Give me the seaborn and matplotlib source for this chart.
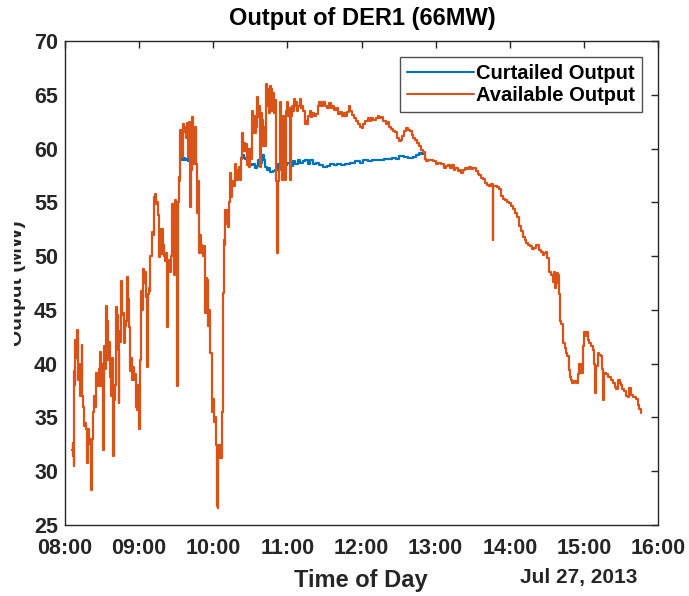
import numpy as np
import pandas as pd
import matplotlib
matplotlib.use("Agg")
import matplotlib.pyplot as plt
import matplotlib.dates as mdates
from matplotlib.lines import Line2D
from matplotlib.patches import Rectangle
import seaborn as sns

# ---------------- data (minutes after 08:00, MW) ----------------
avail_min = [
    6.0, 6.3, 6.6, 7.0, 7.3, 7.8, 8.3, 9.0, 9.6, 10.2, 10.8, 11.4, 12.0, 12.7, 13.4, 14.0, 14.6, 15.4,
    16.2, 17.0, 17.6, 18.4, 19.2, 20.0, 20.8, 21.6, 22.3, 23.0, 23.8, 24.6, 25.4, 26.2, 27.0, 27.6,
    28.3, 28.9, 29.5, 30.2, 31.0, 31.6, 32.3, 33.0, 33.8, 34.6, 35.2, 35.9, 36.6, 37.3, 38.0, 38.8,
    39.5, 40.3, 41.0, 41.9, 42.6, 43.4, 44.0, 44.8, 45.5, 46.2, 47.0, 47.8, 48.6, 49.4, 50.2, 50.9,
    51.6, 52.4, 53.2, 54.0, 55.0, 56.0, 56.8, 57.6, 58.4, 59.2, 60.0, 60.8, 61.5, 62.2, 63.0, 63.8,
    64.6, 65.4, 66.2, 66.8, 67.6, 68.4, 69.2, 70.3, 71.0, 71.8, 72.6, 73.4, 74.2, 75.0, 75.7, 76.5,
    77.3, 78.2, 78.9, 79.6, 80.4, 81.2, 82.0, 82.6, 83.4, 84.2, 85.1, 85.8, 86.5, 87.3, 88.0, 88.6,
    89.3, 90.0, 90.5, 91.2, 91.9, 92.6, 93.2, 94.0, 94.9, 95.7, 96.5, 97.3, 98.1, 98.9, 99.7, 100.5,
    101.4, 102.2, 103.0, 103.8, 104.6, 105.4, 106.2, 107.0, 107.8, 108.6, 109.4, 110.2, 111.0, 111.9,
    112.7, 113.5, 114.3, 115.0, 115.8, 116.6, 117.6, 118.4, 119.2, 120.0, 120.8, 121.6, 122.4, 123.0,
    123.6, 124.2, 124.9, 125.7, 126.4, 127.0, 127.5, 128.1, 128.6, 129.4, 129.9, 130.8, 131.6, 132.2,
    133.0, 133.8, 134.6, 135.4, 136.2, 137.0, 137.8, 138.8, 139.8, 140.8, 141.9, 142.7, 143.5, 144.3,
    145.2, 146.0, 146.8, 147.6, 148.4, 149.2, 150.0, 150.8, 151.6, 152.4, 153.2, 154.0, 154.8, 155.7,
    156.5, 157.3, 158.1, 158.9, 159.7, 160.5, 161.3, 162.2, 163.0, 163.8, 164.6, 165.4, 166.2, 167.0,
    167.8, 168.6, 169.4, 170.2, 171.0, 171.5, 172.2, 173.0, 173.8, 174.6, 175.4, 176.2, 177.0, 177.8,
    178.6, 179.4, 180.2, 181.0, 181.8, 182.6, 183.4, 184.2, 185.0, 186.0, 187.0, 188.0, 189.0, 190.0,
    191.0, 192.0, 193.0, 194.0, 195.0, 196.0, 197.0, 198.0, 199.0, 200.0, 201.5, 203.0, 204.5, 206.0,
    207.5, 209.0, 210.5, 212.0, 213.5, 215.0, 216.5, 218.0, 219.5, 221.0, 222.5, 224.0, 225.5, 227.0,
    228.5, 229.5, 231.0, 232.5, 234.0, 235.5, 237.0, 238.5, 240.0, 241.5, 243.0, 244.9, 246.5, 248.0,
    249.5, 251.4, 253.0, 254.5, 256.0, 257.8, 259.5, 261.0, 262.5, 264.0, 265.5, 267.0, 268.5, 270.0,
    271.6, 273.0, 274.5, 276.0, 277.5, 279.0, 280.5, 282.0, 283.5, 285.0, 286.5, 288.0, 289.5, 291.0,
    292.5, 294.0, 296.0, 298.0, 300.0, 302.0, 304.0, 306.5, 308.0, 309.7, 311.5, 313.0, 314.6, 316.0,
    317.8, 319.0, 320.3, 322.0, 323.5, 325.0, 327.0, 329.0, 330.5, 332.4, 334.0, 335.5, 337.0, 338.5,
    340.0, 341.5, 343.0, 344.5, 346.0, 346.3, 346.6, 348.0, 350.0, 351.5, 353.0, 354.3, 356.0, 357.5,
    359.2, 361.0, 362.4, 364.0, 365.5, 367.3, 369.0, 370.5, 372.0, 373.5, 375.0, 376.5, 378.0, 379.5,
    381.5, 383.5, 385.0, 386.8, 388.0, 389.2, 390.0, 391.6, 393.0, 394.9, 395.7, 396.5, 397.3, 398.5,
    399.2, 399.7, 400.5, 401.5, 403.0, 404.5, 405.4, 406.5, 407.8, 408.6, 409.5, 410.5, 412.0, 413.5,
    415.1, 416.0, 417.6, 419.2, 420.0, 421.0, 421.6, 423.2, 424.5, 425.7, 427.3, 428.0, 429.0, 429.3,
    429.7, 431.4, 432.5, 433.8, 435.0, 435.4, 436.2, 437.8, 439.5, 441.9, 443.5, 445.0, 446.0, 447.6,
    449.0, 450.0, 451.2, 452.4, 454.0, 455.7, 456.5, 458.1, 460.0, 462.2, 463.5, 464.6, 466.2,
]
avail_mw = [
    32.0, 32.6, 31.4, 30.5, 39.3, 38.0, 42.2, 40.5, 43.1, 40.6, 38.5, 40.0, 37.0, 39.0, 41.7, 37.0, 36.0, 34.2,
    34.5, 33.9, 30.8, 33.9, 32.5, 33.0, 28.3, 33.0, 33.6, 35.5, 37.0, 36.0, 39.1, 38.5, 37.9, 39.5,
    41.1, 38.0, 37.9, 40.0, 32.0, 41.6, 39.5, 45.4, 44.0, 42.5, 40.3, 42.0, 38.8, 37.0, 40.5, 31.4,
    36.6, 38.0, 45.3, 44.5, 41.3, 36.3, 43.0, 42.0, 47.7, 44.5, 44.7, 41.9, 43.5, 44.0, 48.1, 46.0,
    43.4, 39.3, 40.5, 38.5, 39.7, 38.5, 39.0, 36.0, 35.7, 38.0, 33.9, 40.3, 46.8, 45.0, 48.8, 47.5,
    48.5, 46.2, 39.7, 46.5, 47.0, 46.8, 50.0, 52.2, 52.0, 55.5, 55.8, 54.8, 55.0, 53.8, 49.9, 52.5,
    51.5, 50.2, 52.5, 51.0, 50.0, 49.5, 50.3, 43.4, 49.6, 49.0, 48.5, 50.0, 54.8, 54.8, 50.0, 48.2,
    55.2, 54.0, 37.9, 55.0, 57.4, 57.0, 61.7, 60.5, 59.2, 62.3, 61.5, 62.0, 61.0, 62.4, 59.2, 62.5,
    54.6, 58.0, 62.9, 60.0, 58.6, 62.0, 58.6, 54.0, 57.0, 50.3, 52.0, 51.0, 50.3, 50.0,
    50.9, 44.7, 48.0, 47.8, 43.5, 45.0, 41.0, 41.0, 35.5, 36.7, 34.6, 35.0, 32.4, 26.8,
    26.6, 32.4, 31.2, 32.4, 31.2, 35.5, 46.0, 46.6, 51.5, 51.0, 54.3, 53.0, 54.0, 52.7,
    55.0, 57.7, 55.5, 56.5, 57.0, 56.5, 58.6, 57.1, 58.0, 58.3, 57.1, 59.0, 61.4, 59.8,
    60.5, 59.8, 60.4, 58.5, 60.0, 58.3, 60.0, 59.0, 63.5, 61.4, 63.0, 61.4, 62.0, 64.8,
    62.9, 64.0, 58.3, 63.3, 62.7, 60.2, 62.0, 60.2, 66.0, 64.0, 65.5, 63.3, 65.8, 65.5,
    63.5, 65.2, 63.3, 64.5, 57.0, 50.3, 57.0, 58.0, 64.3, 60.0, 57.1, 63.0, 62.0, 57.1,
    63.5, 64.3, 63.0, 63.8, 57.1, 63.0, 64.0, 63.5, 64.6, 64.0, 64.3, 63.5, 64.0, 64.6,
    63.8, 64.0, 63.5, 62.3, 62.6, 62.3, 63.0, 63.5, 62.9, 63.3, 63.0, 63.2, 64.0, 64.3,
    64.0, 64.3, 64.0, 63.8, 64.2, 63.8, 64.0, 63.6, 63.8, 63.2, 63.4, 63.0, 63.3, 63.0,
    63.4, 64.0, 63.5, 63.1, 62.8, 62.6, 62.3, 62.0, 61.9, 62.3, 62.6, 62.8, 62.6, 62.8,
    62.7, 62.8, 63.0, 62.8, 62.9, 62.6, 62.3, 62.5, 62.0, 61.8, 61.6, 61.5, 61.0, 60.7,
    60.8, 61.2, 61.6, 61.9, 61.7, 61.6, 61.3, 61.0, 60.8, 60.5, 60.2, 59.9, 59.7, 59.0,
    58.8, 58.9, 58.9, 58.8, 58.6, 58.7, 58.6, 58.2, 58.4, 58.5, 58.2, 58.5, 58.0, 58.2,
    57.9, 58.0, 57.7, 58.0, 58.2, 58.1, 58.3, 58.1, 58.2, 57.9, 57.6, 57.5, 57.3, 57.2,
    56.8, 56.6, 56.5, 56.7, 56.7, 51.5, 56.5, 56.5, 56.4, 56.2, 55.6, 55.3, 55.2, 55.0,
    54.9, 54.7, 54.4, 54.0, 53.6, 52.8, 52.3, 51.8, 51.5, 51.2, 51.0, 50.9, 50.7, 50.8,
    51.0, 50.6, 50.4, 50.1, 50.3, 50.4, 49.8, 48.5, 48.2, 47.6, 48.5, 47.0, 47.5, 48.4,
    48.2, 46.5, 44.0, 43.7, 41.9, 41.5, 41.0, 40.7, 39.4, 38.8, 38.5, 38.2, 38.4, 38.2,
    39.0, 40.0, 39.1, 41.6, 42.9, 42.6, 42.9, 42.2, 41.9, 41.6, 41.3, 40.0, 39.4, 37.3,
    39.8, 41.0, 40.8, 40.7, 39.5, 36.6, 39.1, 39.0, 38.8, 38.5, 38.2, 37.8, 37.6, 38.5,
    38.2, 38.0, 37.6, 37.5, 37.0, 36.9, 37.7, 37.1, 36.9, 36.7, 36.2, 35.8, 35.4,
]

curt_min = [
    93.2, 94.0, 95.0, 96.0, 97.0, 98.1, 99.7, 100.5, 101.4, 102.5, 103.8,
    142.5, 143.5, 144.5, 146.0, 147.6, 149.0, 150.5, 152.4, 154.0, 155.5, 156.5, 158.0, 159.7,
    161.0, 162.2, 163.5, 165.0, 166.2, 168.0, 170.3, 171.5, 172.5, 174.3, 176.0, 178.4, 180.0,
    182.4, 184.5, 186.5, 188.5, 190.5, 192.5, 194.6, 196.5, 198.6, 201.0, 203.5, 206.0, 209.2,
    212.0, 214.9, 217.5, 220.5, 223.5, 227.0, 231.0, 235.1, 238.5, 241.6, 245.0, 248.9, 252.0,
    255.4, 258.5, 261.9, 265.0, 267.6, 270.0, 271.6, 274.0, 275.7, 278.0, 281.4, 284.0, 286.2,
    288.0, 289.5,
]
curt_mw = [
    59.2, 59.0, 58.9, 59.1, 58.9, 59.0, 58.8, 59.4, 59.0, 59.2, 58.6,
    59.1, 59.4, 59.1, 59.0, 58.9, 58.6, 58.5, 58.6, 58.2, 58.4, 58.9, 58.7, 59.4,
    58.9, 58.3, 58.0, 58.2, 57.8, 57.9, 58.0, 58.0, 58.6, 58.4, 58.9, 58.5, 58.7,
    58.4, 58.8, 58.6, 58.9, 58.7, 58.8, 58.9, 58.6, 58.9, 58.6, 58.7, 58.5, 58.3,
    58.4, 58.6, 58.5, 58.6, 58.5, 58.6, 58.7, 58.8, 58.7, 58.9, 58.8, 58.9, 58.9,
    58.9, 59.0, 59.0, 59.1, 59.0, 59.3, 59.3, 59.2, 59.2, 59.1, 59.2, 59.4, 59.6,
    59.5, 59.7,
]
curt_segment = [0] * 11 + [1] * (len(curt_min) - 11)

series_names = ["Curtailed Output", "Available Output"]
y_ticks = [25, 30, 35, 40, 45, 50, 55, 60, 65, 70]
title = "Output of DER1 (66MW)"
x_label = "Time of Day"
y_label = "Output (MW)"
date_label = "Jul 27, 2013"

# ---------------- build frames ----------------
base = pd.Timestamp("2013-07-27 08:00")
avail_df = pd.DataFrame({
    "time": base + pd.to_timedelta(avail_min, unit="min"),
    "mw": avail_mw,
})
curt_df = pd.DataFrame({
    "time": base + pd.to_timedelta(curt_min, unit="min"),
    "mw": curt_mw,
    "seg": curt_segment,
})

BLUE = "#0072BD"
ORANGE = "#D95319"
DARK = "#262626"

sns.set_style("white")
plt.rcParams["font.family"] = ["Liberation Sans", "DejaVu Sans"]
plt.rcParams["font.weight"] = "bold"

fig = plt.figure(figsize=(6.89, 5.96), dpi=100)
ax = fig.add_axes([65 / 689, 1 - 525 / 596, 593 / 689, 484 / 596])

sns.lineplot(data=curt_df, x="time", y="mw", units="seg", estimator=None,
             sort=False, color=BLUE, linewidth=1.6, drawstyle="steps-post", ax=ax)
sns.lineplot(data=avail_df, x="time", y="mw", estimator=None,
             sort=False, color=ORANGE, linewidth=1.6, drawstyle="steps-post", ax=ax)

ax.set_xlim(base, base + pd.Timedelta(hours=8))
ax.set_ylim(25, 70)
ax.set_yticks(y_ticks)
ax.xaxis.set_major_locator(mdates.HourLocator())
ax.xaxis.set_major_formatter(mdates.DateFormatter("%H:%M"))

for sp in ax.spines.values():
    sp.set_color(DARK)
    sp.set_linewidth(1.0)
ax.tick_params(axis="both", which="major", direction="in", length=5, width=1.0,
               color=DARK, labelcolor=DARK, labelsize=15.5, top=True, right=True)
ax.tick_params(axis="x", pad=9)
ax.tick_params(axis="y", pad=5)
for lbl in ax.get_xticklabels() + ax.get_yticklabels():
    lbl.set_fontweight("bold")

ax.set_xlabel("")
ax.set_ylabel(y_label, fontsize=15, fontweight="bold", color=DARK)
ax.yaxis.set_label_coords(-0.066, 0.5)
fig.text(362 / 689, 1 - 19 / 596, title, ha="center", va="center",
         fontsize=17, fontweight="bold", color="black")
fig.text(361 / 689, 1 - 580 / 596, x_label, ha="center", va="center",
         fontsize=17, fontweight="bold", color=DARK)
fig.text(579 / 689, 1 - 578 / 596, date_label, ha="center", va="center",
         fontsize=15, fontweight="bold", color=DARK)

handles = [Line2D([], [], color=BLUE, linewidth=1.5),
           Line2D([], [], color=ORANGE, linewidth=1.5)]
leg = ax.legend(handles, series_names, loc="upper right",
                frameon=True, fancybox=False, handlelength=3.3, handletextpad=0.1,
                borderpad=0.35, labelspacing=0.15, borderaxespad=0.8,
                prop={"weight": "bold", "size": 14.5})
leg.get_frame().set_edgecolor(DARK)
leg.get_frame().set_linewidth(1.0)
for t in leg.get_texts():
    t.set_color("black")

# the reference crops the left part of the y label
fig.add_artist(Rectangle((0, 0), 14 / 689, 1, transform=fig.transFigure,
                         facecolor="white", edgecolor="none", zorder=10))

fig.savefig("out.png", dpi=100)
